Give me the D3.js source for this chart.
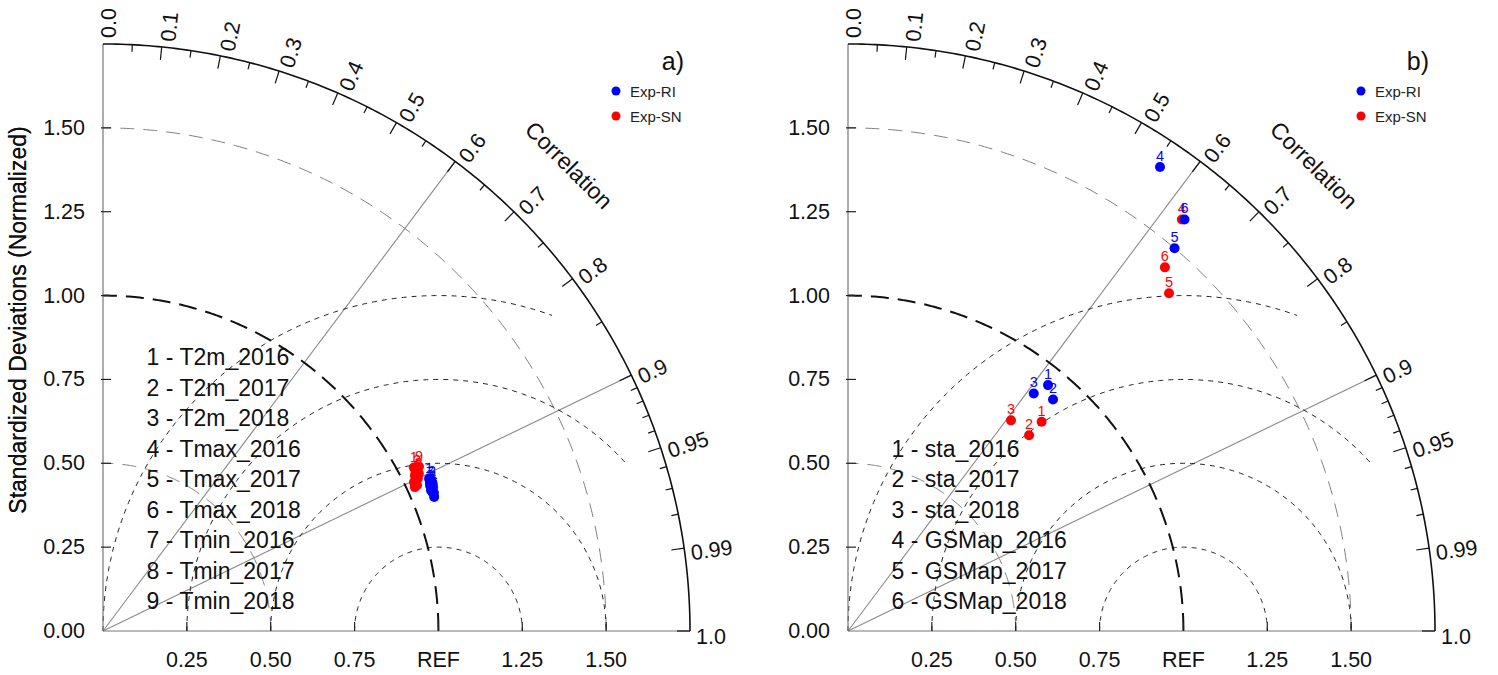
<!DOCTYPE html>
<html><head><meta charset="utf-8">
<script src="https://cdn.jsdelivr.net/npm/d3@7"></script>
<style>body{margin:0;background:#fff} text{font-family:"Liberation Sans",Arial,Helvetica,sans-serif}</style>
</head><body><svg id="chart" width="1498" height="675"></svg>
<script>
// ---------- data ----------
const corrMajor = [0.0,0.1,0.2,0.3,0.4,0.5,0.6,0.7,0.8,0.9,0.95,0.99,1.0];
const corrMajorLabels = ["0.0","0.1","0.2","0.3","0.4","0.5","0.6","0.7","0.8","0.9","0.95","0.99","1.0"];
const corrMinor = [0.05,0.15,0.25,0.35,0.45,0.55,0.65,0.75,0.85,0.91,0.92,0.93,0.94,0.96,0.97,0.98];
const stdTicks = [0,0.25,0.5,0.75,1.0,1.25,1.5];
const stdTickLabels = ["0.00","0.25","0.50","0.75","1.00","1.25","1.50"];
const xTicks = [0.25,0.5,0.75,1.0,1.25,1.5];
const xTickLabels = ["0.25","0.50","0.75","REF","1.25","1.50"];
const corrRays = [0.6,0.9];
const stdArcs = [0.5,1.5];
const rmsRadii = [0.25,0.5,0.75,1.0];
const rmsExtent = [1.0,1.0,0.77,0.61];
const seriesNames = ["Exp-RI","Exp-SN"];
const seriesColors = ["#0000ff","#ff0000"];

const casesA = ["T2m_2016","T2m_2017","T2m_2018","Tmax_2016","Tmax_2017","Tmax_2018","Tmin_2016","Tmin_2017","Tmin_2018"];
const ratioA_RI = [1.073,1.077,1.067,1.073,1.064,1.069,1.070,1.065,1.065];
const ccA_RI    = [0.906,0.911,0.914,0.917,0.919,0.923,0.911,0.921,0.927];
const ratioA_SN = [1.047,1.051,1.052,1.039,1.043,1.028,1.032,1.024,1.062];
const ccA_SN    = [0.885,0.891,0.895,0.895,0.900,0.902,0.907,0.908,0.887];

const casesB = ["sta_2016","sta_2017","sta_2018","GSMap_2016","GSMap_2017","GSMap_2018"];
const ratioB_RI = [0.945,0.922,0.899,1.667,1.500,1.585];
const ccB_RI    = [0.631,0.663,0.616,0.558,0.649,0.633];
const ratioB_SN = [0.850,0.795,0.794,1.580,1.389,1.438];
const ccB_SN    = [0.679,0.679,0.612,0.630,0.689,0.657];

// ---------- drawing ----------
const svg = d3.select("#chart");
const R = d3.scaleLinear().domain([0,1.75]).range([0,587]);
const rMax = 1.75;
const tickFont = 21.5, titleFont = 23;

function drawPanel(ox, oy, tag, cases, series) {
  const g = svg.append("g").attr("transform", `translate(${ox},${oy})`);
  const px = (ratio, cc) => R(ratio*cc);
  const py = (ratio, cc) => -R(ratio*Math.sqrt(1-cc*cc));
  const line = d3.line().x(d=>d[0]).y(d=>d[1]);
  const arcPts = (rad, cx, a0, a1, n=200) => d3.range(n+1).map(i=>{
    const a = a0 + (a1-a0)*i/n;
    return [R(cx + rad*Math.cos(a)), -R(Math.abs(rad*Math.sin(a)))];
  });

  // std arcs (0.5, 1.5) gray dashed
  stdArcs.forEach(s=>{
    g.append("path").attr("d", line(arcPts(s,0,0,Math.PI/2)))
      .attr("fill","none").attr("stroke","#808080").attr("stroke-width",1).attr("stroke-dasharray","14,9");
  });
  // rays
  corrRays.forEach(c=>{
    g.append("line").attr("x1",0).attr("y1",0).attr("x2",px(rMax,c)).attr("y2",py(rMax,c))
      .attr("stroke","#8a8a8a").attr("stroke-width",1.1);
  });
  // RMS arcs
  rmsRadii.forEach((rr,i)=>{
    g.append("path").attr("d", line(arcPts(rr,1,Math.PI,Math.PI+Math.PI*rmsExtent[i])))
      .attr("fill","none").attr("stroke","#222").attr("stroke-width",1).attr("stroke-dasharray","5,5");
  });
  // REF arc
  g.append("path").attr("d", line(arcPts(1,0,0,Math.PI/2)))
    .attr("fill","none").attr("stroke","#111").attr("stroke-width",2).attr("stroke-dasharray","18,9");

  // axes lines
  g.append("line").attr("x1",0).attr("y1",0).attr("x2",0).attr("y2",-R(rMax)).attr("stroke","#777").attr("stroke-width",1.2);
  g.append("line").attr("x1",0).attr("y1",0).attr("x2",R(rMax)).attr("y2",0).attr("stroke","#777").attr("stroke-width",1.2);
  // outer arc
  g.append("path").attr("d", line(arcPts(rMax,0,0,Math.PI/2))).attr("fill","none").attr("stroke","#111").attr("stroke-width",1.6);

  // y ticks
  stdTicks.forEach((t,i)=>{
    if (t>0) g.append("line").attr("x1",-2).attr("x2",8).attr("y1",-R(t)).attr("y2",-R(t)).attr("stroke","#222").attr("stroke-width",1.2);
    g.append("text").attr("x",-18).attr("y",-R(t)).attr("text-anchor","end").attr("dominant-baseline","central")
      .attr("font-size",tickFont).attr("fill","#111").text(stdTickLabels[i]);
  });
  // x ticks
  xTicks.forEach((t,i)=>{
    g.append("line").attr("x1",R(t)).attr("x2",R(t)).attr("y1",0).attr("y2",-9).attr("stroke","#222").attr("stroke-width",1.2);
    g.append("text").attr("x",R(t)).attr("y",29).attr("text-anchor","middle").attr("dominant-baseline","central")
      .attr("font-size",tickFont).attr("fill","#111").text(xTickLabels[i]);
  });
  // y title
  g.append("text").attr("transform",`translate(${18-ox},${320-oy}) rotate(-90)`).attr("text-anchor","middle")
    .attr("dominant-baseline","central").attr("font-size",titleFont).attr("fill","#111").text("Standardized Deviations (Normalized)");

  // correlation ticks
  const Rp = R(rMax);
  corrMinor.forEach(c=>{
    const th = Math.acos(c);
    g.append("line").attr("x1",Rp*Math.cos(th)).attr("y1",-Rp*Math.sin(th))
      .attr("x2",(Rp-7)*Math.cos(th)).attr("y2",-(Rp-7)*Math.sin(th)).attr("stroke","#111").attr("stroke-width",1.2);
  });
  corrMajor.forEach((c,i)=>{
    const th = Math.acos(c);
    if (c>0) g.append("line").attr("x1",Rp*Math.cos(th)).attr("y1",-Rp*Math.sin(th))
      .attr("x2",(Rp-13)*Math.cos(th)).attr("y2",-(Rp-13)*Math.sin(th)).attr("stroke","#111").attr("stroke-width",1.2);
    const rr = Rp+6, perp = 6;
    const x = rr*Math.cos(th) + perp*Math.sin(th);
    const y = -rr*Math.sin(th) + perp*Math.cos(th);
    g.append("text").attr("transform",`translate(${x},${y}) rotate(${-th*180/Math.PI})`)
      .attr("text-anchor","start").attr("dominant-baseline","central").attr("font-size",tickFont).attr("fill","#111")
      .text(corrMajorLabels[i]);
  });
  // Correlation title
  const tr = Rp + 72, ta = Math.PI/4;
  g.append("text").attr("transform",`translate(${tr*Math.cos(ta)},${-tr*Math.sin(ta)}) rotate(45)`)
    .attr("text-anchor","middle").attr("dominant-baseline","central").attr("font-size",titleFont).attr("fill","#111").text("Correlation");

  // case labels list
  const n = cases.length;
  cases.forEach((c,i)=>{
    g.append("text").attr("x",R(0.13)).attr("y",-30 - (n-1-i)*30.5).attr("dominant-baseline","central")
      .attr("font-size",titleFont).attr("fill","#111").text(`${i+1} - ${c}`);
  });

  // markers: labels first, then markers; Exp-SN then Exp-RI
  [1,0].forEach(s=>{
    const ser = series[s];
    ser.ratio.forEach((rt,i)=>{
      const x = px(rt, ser.cc[i]), y = py(rt, ser.cc[i]);
      g.append("text").attr("x",x).attr("y",y-11).attr("text-anchor","middle").attr("dominant-baseline","central")
        .attr("font-size",14.5).attr("fill",seriesColors[s]).text(i+1);
      g.append("circle").attr("cx",x).attr("cy",y).attr("r",5).attr("fill",seriesColors[s]);
    });
  });

  // legend
  seriesNames.forEach((nm,s)=>{
    const ly = 91 - oy + s*25;
    g.append("circle").attr("cx",513).attr("cy",ly).attr("r",4.5).attr("fill",seriesColors[s]);
    g.append("text").attr("x",527).attr("y",ly).attr("dominant-baseline","central").attr("font-size",15).attr("fill","#222").text(nm);
  });
  // panel tag
  g.append("text").attr("x",581).attr("y",70-oy).attr("text-anchor","end").attr("font-size",25).attr("fill","#111").text(tag);
}

drawPanel(103, 631, "a)", casesA, [{ratio:ratioA_RI, cc:ccA_RI},{ratio:ratioA_SN, cc:ccA_SN}]);
drawPanel(848, 631, "b)", casesB, [{ratio:ratioB_RI, cc:ccB_RI},{ratio:ratioB_SN, cc:ccB_SN}]);
</script></body></html>
